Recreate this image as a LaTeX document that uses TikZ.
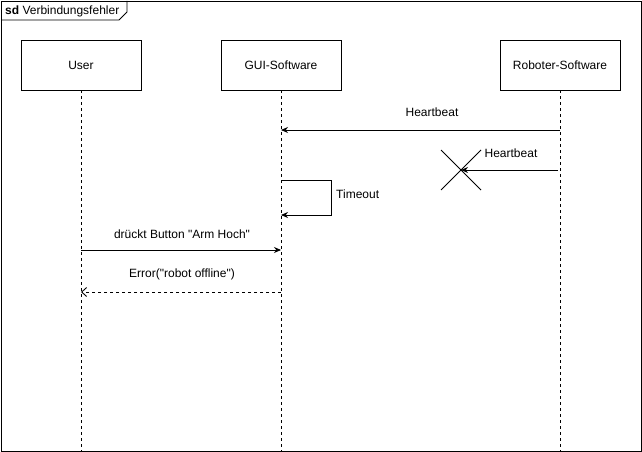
\documentclass[tikz,border=0pt]{standalone}
\usepackage{fontspec}
\setmainfont{Liberation Sans}[Ligatures=TeXOff]
\usetikzlibrary{arrows.meta}
\begin{document}
\begin{tikzpicture}[x=1pt,y=-1pt,
  every node/.style={font=\fontsize{12}{14}\selectfont},
  lifebox/.style={draw,line width=0.8pt,minimum width=120pt,minimum height=50pt,inner sep=0pt,fill=white},
  lifeline/.style={dashed,line width=0.7pt,dash pattern=on 3pt off 3pt},
  msg/.style={line width=0.9pt,-{Stealth[length=7pt,width=6pt]}},
  reply/.style={line width=0.9pt,dash pattern=on 3pt off 3pt,-{Straight Barb[length=5pt,width=9pt]}},
  lbl/.style={inner sep=1pt}]
\useasboundingbox (0,0) rectangle (642,452);
\draw[line width=0.8pt] (1,1) rectangle (641,451);
\draw[line width=0.8pt] (1,20) -- (119,20) -- (127,12) -- (127,1);
\node[anchor=west,inner sep=0pt] (title) at (5,11) {\textbf{sd} Verbindungsfehler};
% lifelines
\node[lifebox] (user) at (81,65) {User};
\node[lifebox] (gui) at (281,65) {GUI-Software};
\node[lifebox] (robot) at (560,65) {Roboter-Software};
\coordinate (userEnd) at (81,451);
\coordinate (guiEnd) at (281,451);
\coordinate (robotEnd) at (560,451);
\draw[lifeline] (user.south) -- (userEnd);
\draw[lifeline] (gui.south) -- (guiEnd);
\draw[lifeline] (robot.south) -- (robotEnd);
% heartbeat 1
\coordinate (hb1s) at (560,130);
\coordinate (hb1e) at (281,130);
\draw[msg] (hb1s) -- (hb1e);
\node[lbl] (hb1l) at (432,112) {Heartbeat};
% heartbeat 2 (lost)
\coordinate (hb2s) at (558,170);
\coordinate (hb2e) at (461,170);
\draw[msg] (hb2s) -- (hb2e);
\node[lbl] (hb2l) at (511,153) {Heartbeat};
\coordinate (xa) at (441,150);
\coordinate (xb) at (481,190);
\coordinate (xc) at (441,190);
\coordinate (xd) at (481,150);
\draw[line width=0.8pt] (xa) -- (xb) (xc) -- (xd);
% timeout self message
\coordinate (to1) at (281,180);
\coordinate (to2) at (331,180);
\coordinate (to3) at (331,215);
\coordinate (to4) at (281,215);
\draw[msg] (to1) -- (to2) -- (to3) -- (to4);
\node[lbl,anchor=west] (tol) at (335,194) {Timeout};
% button
\coordinate (b1) at (81,250);
\coordinate (b2) at (281,250);
\draw[msg] (b1) -- (b2);
\node[lbl] (bl) at (182,234) {drückt Button "Arm Hoch"};
% error
\coordinate (e1) at (281,292);
\coordinate (e2) at (81,292);
\draw[reply] (e1) -- (e2);
\node[lbl] (el) at (182,274) {Error("robot offline")};
\end{tikzpicture}
\end{document}
